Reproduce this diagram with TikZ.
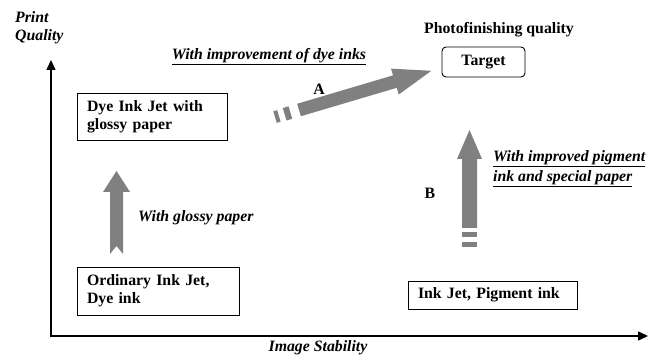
\documentclass[tikz,border=0pt]{standalone}
\usepackage{fontspec}
\setmainfont{Liberation Serif}
\usetikzlibrary{arrows.meta}
\tikzset{
  every node/.style={font=\fontsize{15.8}{18}\selectfont\bfseries, inner sep=0pt},
  box/.style={draw, line width=0.9pt, inner xsep=10pt, align=left},
  lbl/.style={font=\fontsize{15.8}{18}\selectfont\bfseries\itshape},
  axis/.style={line width=1.5pt, {Triangle[length=10pt,width=9pt]}-{Triangle[length=10pt,width=9pt]}},
  fat/.style={fill=black!50, draw=none},
}
\begin{document}
\begin{tikzpicture}[x=1pt,y=1pt]
\useasboundingbox (0,0) rectangle (663,363);
% axes
\coordinate (O) at (51,27);
\coordinate (ytip) at (51,303);
\coordinate (xtip) at (648,27);
\draw[axis] (ytip) -- (O) -- (xtip);
\node[lbl, anchor=west, align=left] (ylab) at (15,335.5) {Print\\Quality};
\node[lbl] (xlab) at (318,15) {Image Stability};
% boxes
\node[box, minimum width=150pt, minimum height=47pt, text width=130pt] (dye) at (152,246.5) {Dye Ink Jet with\\glossy paper};
\node[box, minimum width=162pt, minimum height=48pt, text width=142pt] (ord) at (158,72) {Ordinary Ink Jet,\\Dye ink};
\node[box, minimum width=169pt, minimum height=28pt, text width=149pt] (pig) at (492.5,68) {Ink Jet, Pigment ink};
\node[draw, line width=0.9pt, rounded corners=4pt, minimum width=83pt, minimum height=30pt] (tgt) at (483.5,301) {Target};
\node (photo) at (499,333) {Photofinishing quality};
% labels
\node[lbl] (impr) at (269,306) {\underline{With improvement of dye inks}};
\node (A) at (319,274) {A};
\node (B) at (430,170) {B};
\node[lbl, anchor=west] (gl) at (138,145) {With glossy paper};
\node[lbl, anchor=west, align=left, font=\fontsize{15.8}{20}\selectfont\bfseries\itshape] (pg) at (493,194.5) {\underline{With improved pigment}\\\underline{ink and special paper}};
% glossy arrow
\fill[fat] (110,109) -- (110,171) -- (103,171) -- (116.5,192) -- (130,171) -- (123,171) -- (123,109) -- (116.5,117) -- cycle;
% arrow B
\fill[fat] (462,135) -- (462,204) -- (457,204) -- (469.5,233) -- (482,204) -- (477,204) -- (477,135) -- cycle;
\fill[fat] (462,126) rectangle (477,131);
\fill[fat] (462,116) rectangle (477,121);
% arrow A
\begin{scope}[shift={(299,253)}, rotate=16.5]
\fill[fat] (0,-6.5) -- (100,-6.5) -- (100,-13.5) -- (138,0) -- (100,13.5) -- (100,6.5) -- (0,6.5) -- cycle;
\fill[fat] (-15,-6.5) rectangle (-9,6.5);
\fill[fat] (-25,-6) rectangle (-21,6);
\end{scope}
\end{tikzpicture}
\end{document}
